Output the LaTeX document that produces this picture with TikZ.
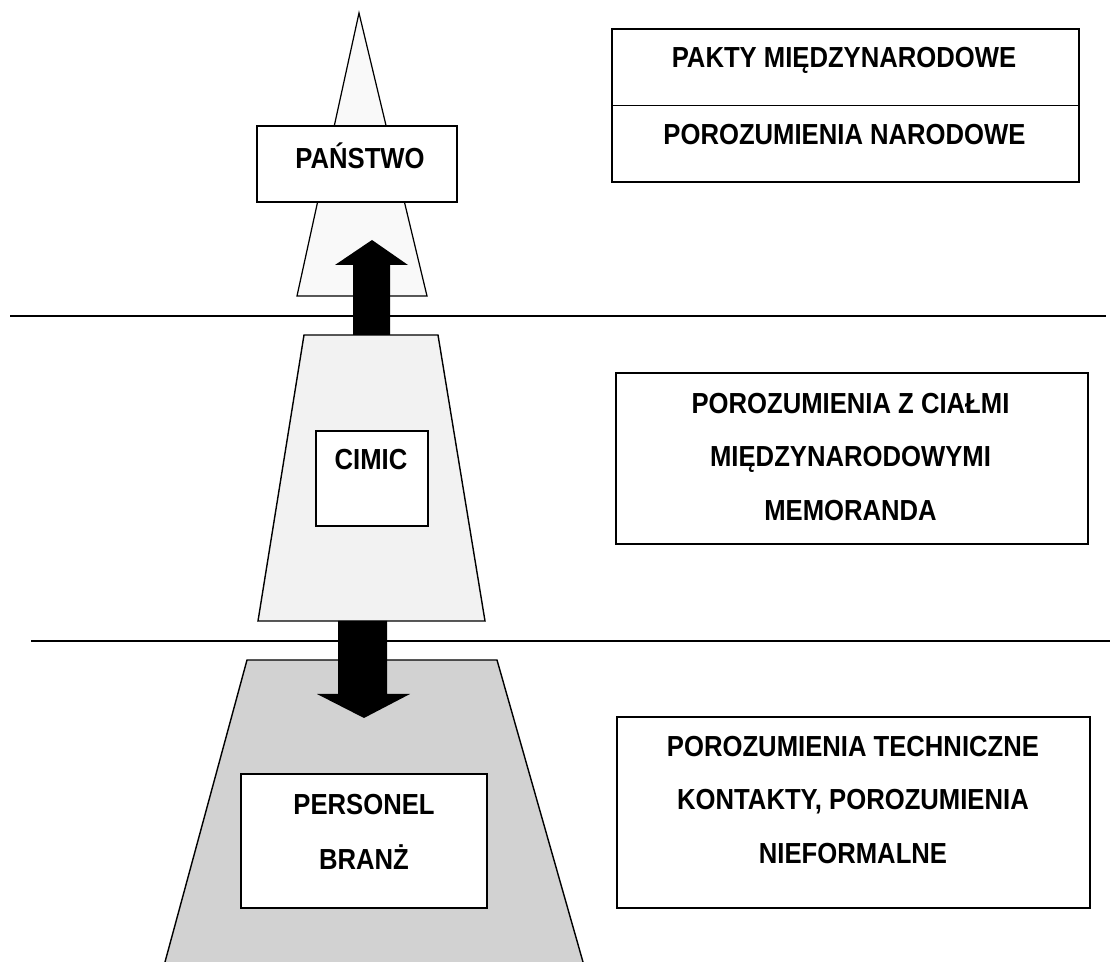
\documentclass[tikz,border=0pt]{standalone}
\usepackage{fontspec}
\setmainfont{Liberation Sans}[FakeStretch=0.885]

\begin{document}
\begin{tikzpicture}[x=0.02cm, y=-0.02cm,
		box/.style={draw, line width=0.9pt, fill=white, inner sep=0pt},
		lbl/.style={font=\bfseries\fontsize{16.5}{30.7}\selectfont, align=center, inner sep=0pt}]
		\useasboundingbox (0,0) rectangle (1110,962);
		
		% Level separators
		\draw[line width=0.8pt] (10,316) -- (1106,316);
		\draw[line width=0.8pt] (31,641) -- (1110,641);
		
		% State level (narrow triangle)
		\filldraw[fill=gray!5, line width=0.7pt] (359,13) -- (427,296) -- (297,296) -- cycle;
		
		% CIMIC level (trapezoid)
		\filldraw[fill=gray!10, line width=0.8pt] (304,335) -- (438,335) -- (485,621) -- (258,621) -- cycle;
		
		% Personnel level (wide trapezoid, cut by the page edge)
		\fill[gray!35] (165,962) -- (247,660) -- (497,660) -- (583,962) -- cycle;
		\draw[line width=0.8pt] (165,962) -- (247,660) -- (497,660) -- (583,962);
		
		% Block arrows
		\fill (353,335) -- (353,265) -- (335,265) -- (372,240) -- (408,265) -- (390,265) -- (390,335) -- cycle;
		\fill (338,621) -- (387,621) -- (387,694) -- (410,694) -- (364,718) -- (317,694) -- (338,694) -- cycle;
		
		% Boxes on the pyramid
		\node[box, minimum width=4cm, minimum height=1.52cm] (panstwo) at (357,164) {};
		\node[lbl] (panstwoTxt) at (360,156) {PAŃSTWO};
		\node[box, minimum width=2.24cm, minimum height=1.9cm] (cimic) at (372,478.5) {};
		\node[lbl] (cimicTxt) at (371,460) {CIMIC};
		\node[box, minimum width=4.92cm, minimum height=2.68cm] (personel) at (364,841) {};
		\node[lbl, font=\bfseries\fontsize{16.5}{31.5}\selectfont] (personelTxt) at (364,832) {PERSONEL\\BRANŻ};
		
		% Agreements on the right
		\node[box, minimum width=9.34cm, minimum height=3.06cm] (pakty) at (845.5,105.5) {};
		\draw[line width=0.9pt] (pakty.west) -- (pakty.east);
		\node[lbl] (paktyTxt) at (844,60) {PAKTY MIĘDZYNARODOWE};
		\node[lbl] (narodTxt) at (844.5,135) {POROZUMIENIA NARODOWE};
		\node[box, minimum width=9.44cm, minimum height=3.42cm] (cialami) at (852,458.5) {};
		\node[lbl] (cialamiTxt) at (850.5,457) {POROZUMIENIA Z CIAŁMI\\MIĘDZYNARODOWYMI\\MEMORANDA};
		\node[box, minimum width=9.46cm, minimum height=3.82cm] (techn) at (853.5,812.5) {};
		\node[lbl] (technTxt) at (853,800) {POROZUMIENIA TECHNICZNE\\KONTAKTY, POROZUMIENIA\\NIEFORMALNE};
		
	\end{tikzpicture}
\end{document}
